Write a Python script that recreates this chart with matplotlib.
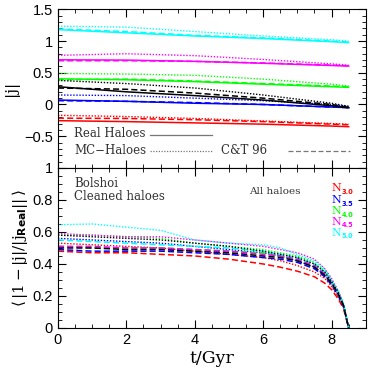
import numpy as np
import matplotlib
matplotlib.use("Agg")
import matplotlib.pyplot as plt
from matplotlib.ticker import MultipleLocator

# top panel: |j| for each N threshold (offset), time grid
t_top = [0, 2, 4, 6, 8, 8.5]
colors = ['red', 'blue', '#00ff00', 'magenta', 'cyan', 'black']
names = ['N3.0', 'N3.5', 'N4.0', 'N4.5', 'N5.0', 'all']

top_real = {
    'N3.0': [-0.255, -0.27, -0.29, -0.31, -0.34, -0.35],
    'N3.5': [0.07, 0.05, 0.02, 0.0, -0.04, -0.05],
    'N4.0': [0.405, 0.39, 0.36, 0.32, 0.28, 0.27],
    'N4.5': [0.705, 0.70, 0.68, 0.65, 0.615, 0.605],
    'N5.0': [1.18, 1.13, 1.08, 1.04, 0.99, 0.975],
    'all':  [0.28, 0.20, 0.14, 0.07, -0.02, -0.05],
}
top_mc = {
    'N3.0': [-0.17, -0.19, -0.22, -0.26, -0.30, -0.31],
    'N3.5': [0.15, 0.14, 0.10, 0.06, 0.0, -0.03],
    'N4.0': [0.49, 0.48, 0.46, 0.40, 0.32, 0.29],
    'N4.5': [0.775, 0.80, 0.77, 0.71, 0.64, 0.62],
    'N5.0': [1.235, 1.22, 1.15, 1.08, 1.02, 1.0],
    'all':  [0.38, 0.33, 0.26, 0.15, 0.02, -0.03],
}
top_ct = {
    'N3.0': [-0.215, -0.22, -0.24, -0.27, -0.31, -0.32],
    'N3.5': [0.06, 0.05, 0.03, 0.0, -0.04, -0.05],
    'N4.0': [0.39, 0.40, 0.37, 0.33, 0.29, 0.28],
    'N4.5': [0.69, 0.69, 0.68, 0.655, 0.62, 0.61],
    'N5.0': [1.19, 1.15, 1.09, 1.05, 1.0, 0.985],
    'all':  [0.26, 0.24, 0.18, 0.10, 0.0, -0.05],
}

# bottom panel: mean relative error
t_bot = [0, 1, 2, 3, 4, 5, 6, 6.5, 7, 7.5, 7.8, 8.0, 8.2, 8.35, 8.5]
bot_ct = {
    'N3.0': [0.48, 0.47, 0.47, 0.46, 0.45, 0.43, 0.40, 0.38, 0.355, 0.32, 0.28, 0.24, 0.18, 0.12, 0.0],
    'N3.5': [0.49, 0.48, 0.48, 0.48, 0.47, 0.46, 0.44, 0.43, 0.41, 0.37, 0.32, 0.27, 0.20, 0.13, 0.0],
    'N4.0': [0.51, 0.50, 0.50, 0.50, 0.49, 0.48, 0.47, 0.45, 0.43, 0.39, 0.34, 0.28, 0.21, 0.14, 0.0],
    'N4.5': [0.51, 0.51, 0.50, 0.50, 0.49, 0.48, 0.46, 0.45, 0.43, 0.39, 0.34, 0.28, 0.21, 0.14, 0.0],
    'N5.0': [0.55, 0.54, 0.53, 0.52, 0.51, 0.50, 0.48, 0.46, 0.44, 0.40, 0.35, 0.29, 0.22, 0.15, 0.0],
    'all':  [0.50, 0.50, 0.49, 0.49, 0.48, 0.47, 0.45, 0.44, 0.42, 0.38, 0.33, 0.28, 0.21, 0.14, 0.0],
}
bot_mc = {
    'N3.0': [0.53, 0.52, 0.51, 0.50, 0.48, 0.46, 0.44, 0.42, 0.39, 0.35, 0.31, 0.26, 0.19, 0.13, 0.0],
    'N3.5': [0.56, 0.55, 0.54, 0.53, 0.51, 0.49, 0.47, 0.45, 0.42, 0.38, 0.33, 0.28, 0.21, 0.14, 0.0],
    'N4.0': [0.58, 0.58, 0.57, 0.56, 0.53, 0.51, 0.49, 0.47, 0.45, 0.41, 0.36, 0.30, 0.22, 0.15, 0.0],
    'N4.5': [0.59, 0.58, 0.57, 0.57, 0.55, 0.53, 0.51, 0.49, 0.47, 0.43, 0.37, 0.31, 0.23, 0.15, 0.0],
    'N5.0': [0.645, 0.65, 0.63, 0.61, 0.55, 0.53, 0.52, 0.50, 0.46, 0.42, 0.37, 0.30, 0.23, 0.15, 0.0],
    'all':  [0.58, 0.57, 0.56, 0.55, 0.53, 0.51, 0.48, 0.46, 0.44, 0.40, 0.35, 0.29, 0.22, 0.14, 0.0],
}

n_labels = ['3.0', '3.5', '4.0', '4.5', '5.0']

plt.rcParams['font.family'] = 'Liberation Sans'
plt.rcParams['mathtext.fontset'] = 'custom'
plt.rcParams['mathtext.rm'] = 'DejaVu Serif'
plt.rcParams['mathtext.it'] = 'DejaVu Serif:italic'
plt.rcParams['mathtext.bf'] = 'DejaVu Sans:bold'

fig = plt.figure(figsize=(3.74, 3.74), dpi=100)
ax1 = fig.add_axes([0.155, 0.551, 0.823, 0.424])
ax2 = fig.add_axes([0.155, 0.123, 0.823, 0.428])

for key, c in zip(names, colors):
    ax1.plot(t_top, top_real[key], color=c, lw=1.1, ls='-')
    ax1.plot(t_top, top_mc[key], color=c, lw=1.0, ls=(0, (1, 1.2)))
    ax1.plot(t_top, top_ct[key], color=c, lw=1.1, ls=(0, (4, 2)))

for key, c in zip(names, colors):
    ax2.plot(t_bot, bot_mc[key], color=c, lw=1.0, ls=(0, (1, 1.2)))
    ax2.plot(t_bot, bot_ct[key], color=c, lw=1.1, ls=(0, (4, 2)))

for ax in (ax1, ax2):
    ax.set_xlim(0, 9)
    ax.xaxis.set_major_locator(MultipleLocator(2))
    ax.xaxis.set_minor_locator(MultipleLocator(0.5))
    ax.tick_params(which='both', direction='in', top=True, right=True, labelsize=10.5)
    ax.tick_params(which='major', length=6)
    ax.tick_params(which='minor', length=3)

ax1.set_ylim(-1, 1.5)
ax1.yaxis.set_minor_locator(MultipleLocator(0.1))
ax1.set_yticks([-0.5, 0, 0.5, 1, 1.5])
ax1.set_yticklabels(['\u22120.5', '0', '0.5', '1', '1.5'])
ax1.tick_params(labelbottom=False)
ax1.set_ylabel('|j|', family='DejaVu Serif', fontsize=11, labelpad=4)

ax2.set_ylim(0, 1)
ax2.yaxis.set_minor_locator(MultipleLocator(0.05))
ax2.set_yticks([0, 0.2, 0.4, 0.6, 0.8, 1])
ax2.set_yticklabels(['0', '0.2', '0.4', '0.6', '0.8', '1'])
ax2.set_xlabel('t/Gyr', family='DejaVu Serif', fontsize=12.5, labelpad=2)
ax2.set_ylabel(r'$\langle\,|1-|\mathrm{j}|/|\mathrm{j}_{\mathbf{Real}}||\,\rangle$', fontsize=11, labelpad=2)

# legend drawn by hand in the top panel
lc = '#777777'
tc = '#333333'
sf = 'DejaVu Serif'
ax1.text(0.052, 0.215, 'Real Haloes', transform=ax1.transAxes, family=sf,
         fontsize=8.5, color=tc, va='center')
ax1.text(0.052, 0.113, 'MC\u2212Haloes', transform=ax1.transAxes, family=sf,
         fontsize=8.5, color=tc, va='center')
ax1.text(0.53, 0.113, 'C&T 96', transform=ax1.transAxes, family=sf,
         fontsize=8.5, color=tc, va='center')
ax1.plot([0.299, 0.5], [0.21, 0.21], transform=ax1.transAxes, color=lc, lw=0.9, ls='-')
ax1.plot([0.299, 0.5], [0.108, 0.108], transform=ax1.transAxes, color=lc, lw=0.9, ls=(0, (1, 1.2)))
ax1.plot([0.747, 0.949], [0.108, 0.108], transform=ax1.transAxes, color=lc, lw=0.9, ls=(0, (4, 2)))

ax2.text(0.052, 0.905, 'Bolshoi', transform=ax2.transAxes, family=sf,
         fontsize=8.5, color=tc, va='center')
ax2.text(0.052, 0.82, 'Cleaned haloes', transform=ax2.transAxes, family=sf,
         fontsize=8.5, color=tc, va='center')
ax2.text(0.62, 0.85, 'All haloes', transform=ax2.transAxes, family=sf,
         fontsize=7.5, color=tc, va='center')

ny = [0.873, 0.797, 0.728, 0.663, 0.595]
for lab, c, y in zip(n_labels, colors, ny):
    ax2.text(0.888, y, 'N', transform=ax2.transAxes, family=sf,
             fontsize=8, color=c, va='center')
    ax2.annotate(lab, xy=(0.888, y), xycoords='axes fraction', xytext=(7.2, -2.5),
                 textcoords='offset points', family='DejaVu Sans', fontweight='bold',
                 fontsize=4.8, color=c, va='center')

fig.savefig('out.png', dpi=100)
